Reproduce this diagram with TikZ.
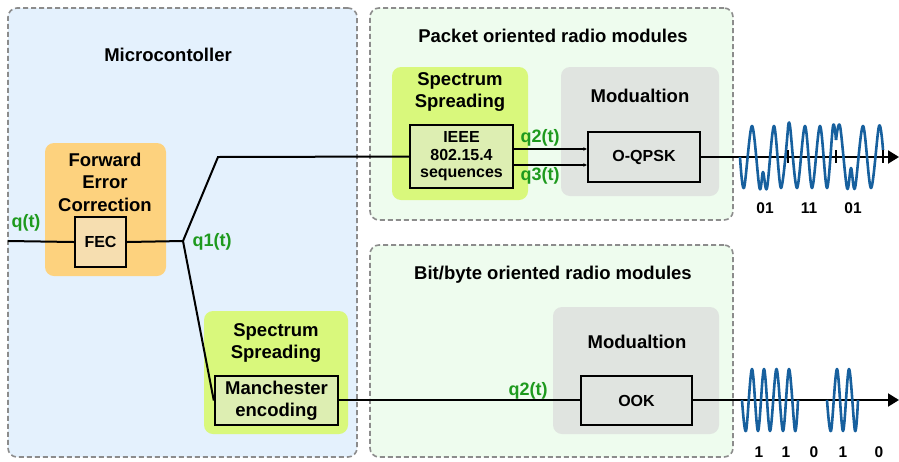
\documentclass[tikz,border=0pt]{standalone}
\usepackage{fontspec}
\setmainfont{Liberation Sans}
\usetikzlibrary{arrows.meta}
\definecolor{microfill}{HTML}{E4F1FD}
\definecolor{radiofill}{HTML}{EEFCEE}
\definecolor{panelborder}{HTML}{8C8C8C}
\definecolor{fecfill}{HTML}{FDD27E}
\definecolor{fecinner}{HTML}{F6DEB0}
\definecolor{limefill}{HTML}{D9F87C}
\definecolor{limeinner}{HTML}{DDEEB2}
\definecolor{modfill}{HTML}{E0E4E0}
\definecolor{sigGreen}{HTML}{1E9A1E}
\definecolor{waveblue}{HTML}{17609E}
\tikzset{
  panel/.style={draw=panelborder, line width=1.6pt, dash pattern=on 5pt off 3pt, rounded corners=9pt},
  group/.style={rounded corners=9pt, draw=none},
  block/.style={draw=black, line width=2.4pt, align=center, inner sep=0pt,
    font=\fontsize{16}{17.5}\selectfont\bfseries},
  title/.style={font=\fontsize{18.5}{22.5}\selectfont\bfseries, align=center, inner sep=0pt},
  sig/.style={text=sigGreen, font=\fontsize{18}{20}\selectfont\bfseries, inner sep=0pt},
  bit/.style={font=\fontsize{15.5}{17}\selectfont\bfseries, inner sep=0pt},
  wire/.style={line width=2pt, draw=black},
  smalltip/.style={-{Stealth[length=3.5pt,width=3.5pt]}},
  bigtip/.style={-{Triangle[length=11pt,width=13pt]}},
  wave/.style={draw=waveblue, line width=2.6pt, line join=round},
  tick/.style={line width=2pt}
}
\begin{document}
\begin{tikzpicture}[x=1pt,y=-1pt]
\useasboundingbox (0,0) rectangle (899,461);
% panels
\node[panel, fill=microfill, minimum width=349pt, minimum height=449pt] (micro) at (182.5,232.5) {};
\node[panel, fill=radiofill, minimum width=363pt, minimum height=212pt] (packet) at (551.5,114) {};
\node[panel, fill=radiofill, minimum width=363pt, minimum height=212pt] (bitbyte) at (551.5,351) {};
\node[title] (microT) at (168,55) {Microcontoller};
\node[title] (packetT) at (553,36) {Packet oriented radio modules};
\node[title] (bitT) at (553,275) {Bit/byte oriented radio modules};
% FEC group
\node[group, fill=fecfill, minimum width=121pt, minimum height=133pt] (fecG) at (105.5,209.5) {};
\node[title] (fecT) at (105,182) {Forward\\Error\\Correction};
\node[block, fill=fecinner, minimum width=51pt, minimum height=50pt] (fec) at (100.5,242) {FEC};
% top spreading
\node[group, fill=limefill, minimum width=136pt, minimum height=133pt] (spreadTop) at (460,133.5) {};
\node[title] (spreadTopT) at (460,92) {Spectrum\\Spreading};
\node[block, fill=limeinner, minimum width=103pt, minimum height=63pt] (ieee) at (461.5,156.5) {IEEE\\802.15.4\\sequences};
% top modulation
\node[group, fill=modfill, minimum width=158pt, minimum height=129pt] (modTop) at (640,131.5) {};
\node[title] (modTopT) at (640,96) {Modualtion};
\node[block, fill=modfill, minimum width=112pt, minimum height=50pt] (oqpsk) at (644,157) {O-QPSK};
% bottom spreading
\node[group, fill=limefill, minimum width=144pt, minimum height=123pt] (spreadBot) at (276,372.5) {};
\node[title] (spreadBotT) at (276,343) {Spectrum\\Spreading};
\node[block, fill=limeinner, minimum width=123pt, minimum height=49pt, font=\fontsize{18.5}{21.5}\selectfont\bfseries] (man) at (276.5,400.5) {Manchester\\encoding};
% bottom modulation
\node[group, fill=modfill, minimum width=166pt, minimum height=127pt] (modBot) at (636,370.5) {};
\node[title] (modBotT) at (637,342) {Modualtion};
\node[block, fill=modfill, minimum width=111pt, minimum height=49pt] (ook) at (636.5,400.5) {OOK};
% coordinates
\coordinate (in) at (8,241);
\coordinate (junc) at (183,241);
\coordinate (bend) at (218,157);
\coordinate (out1) at (899,157);
\coordinate (out2) at (899,400);
% wires
\draw[wire] (in) -- (fec.west);
\draw[wire] (fec.east) -- (junc);
\draw[wire] (junc) -- (bend) -- (ieee.west);
\draw[wire] (junc) -- (man.west);
\draw[wire, smalltip] (ieee.east |- 0,149) -- (oqpsk.west |- 0,149);
\draw[wire, smalltip] (ieee.east |- 0,165) -- (oqpsk.west |- 0,165);
\draw[wire] (man.east |- 0,400) -- (ook.west |- 0,400);
\draw[wire, bigtip] (oqpsk.east) -- (out1);
\draw[wire, bigtip] (ook.east |- 0,400) -- (out2);
% signal labels
\node[sig] (qt) at (26,223) {q(t)};
\node[sig] (q1t) at (212,242) {q1(t)};
\node[sig] (q2top) at (540,138) {q2(t)};
\node[sig] (q3top) at (540,176) {q3(t)};
\node[sig] (q2bot) at (528,391) {q2(t)};
% top wave
\draw[wave] plot[smooth, tension=0.55] coordinates {(740,157) (744,188) (752,126) (759.5,188) (763,172) (767,188) (774,126) (781,188) (788,128)};
\draw[wave] plot[smooth, tension=0.55] coordinates {(788,128) (790,126) (797,188) (805,126) (812,188) (820,126) (827,188) (833,126) (836,140)};
\draw[wave] plot[smooth, tension=0.55] coordinates {(836,140) (840,126) (847,188) (851,168) (855,188) (863,126) (871,188) (879,126) (883,150)};
\draw[tick] (788,150) -- (788,163);
\draw[tick] (836,150) -- (836,163);
\draw[tick] (883,150) -- (883,163);
\node[bit] (b1) at (765,208) {01};
\node[bit] (b2) at (809,208) {11};
\node[bit] (b3) at (853,208) {01};
% bottom wave
\draw[wave] plot[smooth, tension=0.55] coordinates {(742,400) (746,431) (752,369) (758,431) (764,369) (770,431) (776.5,369) (783,431) (789,369) (795,431) (798,400)};
\draw[wave] plot[smooth, tension=0.55] coordinates {(827,400) (831,431) (837,369) (843,431) (849,369) (855,431) (858,400)};
\node[bit] (c1) at (759,452) {1};
\node[bit] (c2) at (786,452) {1};
\node[bit] (c3) at (814,452) {0};
\node[bit] (c4) at (843,452) {1};
\node[bit] (c5) at (879,452) {0};
\end{tikzpicture}
\end{document}
